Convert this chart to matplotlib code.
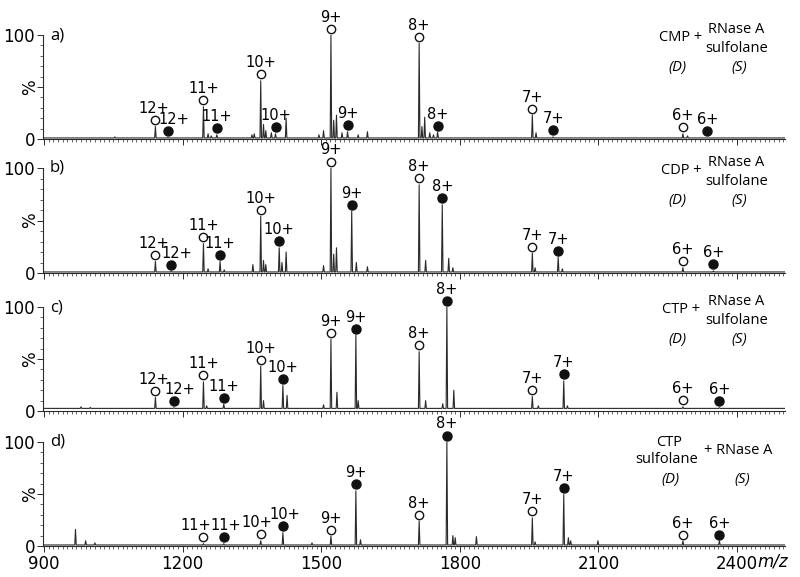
import numpy as np
import matplotlib
matplotlib.use("Agg")
import matplotlib.pyplot as plt
from matplotlib.ticker import MultipleLocator
from matplotlib.transforms import offset_copy

# ---- data (m/z, relative intensity %) ----
panel_tags = ["a)", "b)", "c)", "d)"]
ligands = ["CMP", "CDP", "CTP", "CTP"]
baselines = [1.0, 1.0, 2.5, 1.0]

charges_abc = [12, 11, 10, 9, 8, 7, 6]
charges_d = [11, 10, 9, 8, 7, 6]

# free RNase A ions (open circles)
a_free_mz = [1141, 1245, 1369, 1521, 1712, 1957, 2283]
a_free_int = [12, 31, 56, 100, 92, 23, 5]
b_free_mz = [1141, 1245, 1369, 1521, 1712, 1957, 2283]
b_free_int = [11, 28, 54, 100, 84, 19, 5]
c_free_mz = [1141, 1245, 1369, 1521, 1712, 1957, 2283]
c_free_int = [13, 28, 43, 69, 57, 14, 4]
d_free_mz = [1245, 1369, 1521, 1712, 1957, 2283]
d_free_int = [2.2, 5, 9.5, 24, 27, 4.8]

# ligand-bound ions (filled circles)
a_bound_mz = [1168, 1274, 1401, 1557, 1752, 2002, 2336]
a_bound_int = [1.5, 4, 5, 7, 6.5, 2, 1]
b_bound_mz = [1175, 1281, 1409, 1566, 1762, 2013, 2349]
b_bound_int = [1.5, 11, 24, 59, 65, 15, 2]
c_bound_mz = [1181, 1289, 1417, 1575, 1772, 2025, 2362]
c_bound_int = [3.2, 6.5, 24.5, 73, 100, 29, 3.2]
d_bound_mz = [1289, 1417, 1575, 1772, 2025, 2362]
d_bound_int = [2.2, 12.8, 53, 100, 49.5, 4.8]

# other small peaks
a_minor_mz = [1053, 1255, 1262, 1350, 1355, 1375, 1380, 1392, 1424, 1495, 1505,
              1527, 1533, 1545, 1580, 1600, 1718, 1724, 1735, 1743, 1965, 2293]
a_minor_int = [2, 5, 3, 4, 5, 14, 8, 6, 20, 4, 8, 18, 23, 6, 4, 7, 12, 21, 6, 4, 6, 3]
b_minor_mz = [1255, 1290, 1352, 1375, 1380, 1415, 1424, 1505, 1527, 1533, 1576,
              1600, 1726, 1776, 1785, 1963, 2022]
b_minor_int = [4, 3, 8, 12, 8, 10, 20, 7, 18, 24, 10, 6, 12, 14, 5, 5, 4]
c_minor_mz = [980, 1000, 1252, 1375, 1426, 1505, 1534, 1580, 1726, 1763, 1787,
              1970, 2033]
c_minor_int = [4, 3.5, 5, 10, 15, 6, 18, 10, 10, 7, 20, 5, 5]
d_minor_mz = [968, 990, 1010, 1480, 1585, 1785, 1790, 1836, 1963, 2035, 2040, 2099]
d_minor_int = [16, 5, 3, 3, 6, 10, 8, 9, 4, 8, 5, 5]

free_mz = [a_free_mz, b_free_mz, c_free_mz, d_free_mz]
free_int = [a_free_int, b_free_int, c_free_int, d_free_int]
bound_mz = [a_bound_mz, b_bound_mz, c_bound_mz, d_bound_mz]
bound_int = [a_bound_int, b_bound_int, c_bound_int, d_bound_int]
minor_mz = [a_minor_mz, b_minor_mz, c_minor_mz, d_minor_mz]
minor_int = [a_minor_int, b_minor_int, c_minor_int, d_minor_int]
charges = [charges_abc, charges_abc, charges_abc, charges_d]

XMIN, XMAX = 897, 2504
LINE = "#2a2a2a"

# sideways nudges (px) for crowded charge labels: (panel, kind, charge)
label_nudge = {
    (0, "bound", 12): 6, (1, "bound", 12): 6, (2, "bound", 12): 6,
    (0, "free", 12): -2, (1, "free", 12): -2, (2, "free", 12): -2,
    (3, "free", 11): -8, (3, "bound", 11): 2,
    (3, "free", 10): -4, (3, "bound", 10): 2,
}


def spectrum_line(mz, inten, base, half_width=1.6):
    # stick peaks turned into a continuous profile trace
    order = np.argsort(mz)
    xs, ys = [XMIN], [base]
    for k in order:
        m, h = mz[k], max(inten[k], base)
        xs += [m - half_width, m, m + half_width]
        ys += [base, h, base]
    xs.append(XMAX)
    ys.append(base)
    return xs, ys


W, H = 800, 577
left_px, right_px = 42.7, 785
tops = [35, 168, 307, 442]
bottoms = [139, 273, 411, 546]

fig = plt.figure(figsize=(W / 100, H / 100), dpi=100)

for i in range(4):
    ax = fig.add_axes([left_px / W, 1 - bottoms[i] / H,
                       (right_px - left_px) / W, (bottoms[i] - tops[i]) / H])
    ax.set_xlim(XMIN, XMAX)
    ax.set_ylim(0, 100)
    for s in ["top", "right"]:
        ax.spines[s].set_visible(False)
    for s in ["left", "bottom"]:
        ax.spines[s].set_color(LINE)
        ax.spines[s].set_linewidth(0.8)

    ax.set_yticks([0, 50, 100])
    ax.set_yticklabels(["0", "", "100"])
    ax.yaxis.set_minor_locator(MultipleLocator(10))
    ax.set_xticks(range(900, 2401, 300))
    ax.xaxis.set_minor_locator(MultipleLocator(10))
    ax.tick_params(which="major", direction="out", length=4, width=0.7,
                   labelsize=12, pad=1.5, color=LINE)
    ax.tick_params(which="minor", direction="out", length=2, width=0.5, color=LINE)
    if i < 3:
        ax.tick_params(axis="x", labelbottom=False)
    else:
        ax.tick_params(axis="x", which="major", pad=2.5)

    ax.text(-0.017, 50, "%", rotation=90, transform=ax.get_yaxis_transform(),
            ha="center", va="center", fontsize=12)
    ax.text(0.01, 1.0, panel_tags[i], transform=ax.transAxes, ha="left",
            va="center", fontsize=12, family="Open Sans")

    all_mz = free_mz[i] + bound_mz[i] + minor_mz[i]
    all_int = free_int[i] + bound_int[i] + minor_int[i]
    xs, ys = spectrum_line(all_mz, all_int, baselines[i])
    ax.plot(xs, ys, color=LINE, lw=0.8)

    mk_tr = offset_copy(ax.transData, fig=fig, x=0, y=6.5, units="dots")
    ax.plot(free_mz[i], free_int[i], "o", transform=mk_tr, mfc="white",
            mec="#111", ms=6, mew=1, clip_on=False)
    ax.plot(bound_mz[i], bound_int[i], "o", transform=mk_tr, mfc="#111",
            mec="#111", ms=6.5, mew=1, clip_on=False)
    for kind, mzs, ints in [("free", free_mz[i], free_int[i]),
                            ("bound", bound_mz[i], bound_int[i])]:
        for z, m, h in zip(charges[i], mzs, ints):
            dx = label_nudge.get((i, kind, z), 0)
            lb_tr = offset_copy(ax.transData, fig=fig, x=dx, y=18, units="dots")
            ax.text(m, h, f"{z}+", transform=lb_tr, ha="center", va="center",
                    fontsize=10.5, clip_on=False)

    # sample description in the upper right
    fnt = dict(fontsize=10.5, family="Open Sans", ha="center", va="center",
               transform=ax.transAxes)
    if i < 3:
        ax.text(0.860, 0.98, ligands[i] + " +", **fnt)
        ax.text(0.934, 1.05, "RNase A", **fnt)
        ax.text(0.935, 0.875, "sulfolane", **fnt)
        ax.text(0.855, 0.69, "(D)", style="italic", **fnt)
        ax.text(0.938, 0.69, "(S)", style="italic", **fnt)
    else:
        ax.text(0.844, 0.995, ligands[i], **fnt)
        ax.text(0.840, 0.827, "sulfolane", **fnt)
        ax.text(0.937, 0.923, "+ RNase A", **fnt)
        ax.text(0.845, 0.644, "(D)", style="italic", **fnt)
        ax.text(0.942, 0.644, "(S)", style="italic", **fnt)
        ax.text(0.963, -0.145, "m/z", transform=ax.transAxes, ha="left",
                va="center", fontsize=12, style="italic")

fig.savefig("out.png", dpi=100)
